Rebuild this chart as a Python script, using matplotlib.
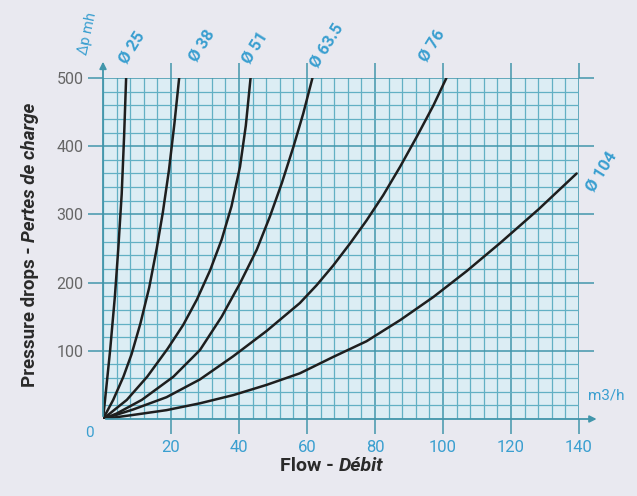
import matplotlib.pyplot as plt
from matplotlib.ticker import MultipleLocator

# flow (m3/h) vs pressure drop
flow_25 = [0, 0.6, 2.1, 3.5, 4.5, 5.5, 6.2, 6.8]
drop_25 = [0, 28, 101, 180, 250, 330, 414, 500]
flow_38 = [0, 3, 6.0, 8.4, 11, 13.6, 15.8, 17.6, 19.4, 21.0, 22.4]
drop_38 = [0, 28, 62, 95, 140, 193, 250, 303, 365, 433, 500]
flow_51 = [0, 7, 13, 19, 23.6, 27.6, 31.5, 34.9, 37.8, 40.3, 42.0, 43.4]
drop_51 = [0, 28, 62, 103, 138, 175, 218, 263, 312, 370, 430, 500]
flow_63 = [0, 4.0, 11.4, 20.7, 28.5, 34.9, 40.3, 45.2, 49.1, 52.6, 56.0, 58.9, 61.6]
drop_63 = [0, 8, 28, 62, 101, 150, 199, 248, 297, 346, 399, 448, 500]
flow_76 = [0, 8.9, 18.7, 28.5, 38.3, 48.1, 57.9, 62.8, 67.7, 72.6, 77.5, 82.4, 87.4, 92.3, 97.2, 101]
drop_76 = [0, 14, 32, 58, 92, 129, 170, 196, 225, 257, 291, 328, 370, 414, 460, 500]
flow_104 = [0, 8.9, 18.7, 28.5, 38.3, 48.1, 57.9, 67.7, 77.5, 87.4, 97.2, 107, 116.8, 128, 139.3]
drop_104 = [0, 6, 13, 23, 35, 50, 67, 91, 114, 145, 179, 217, 258, 307, 360]

curve_names = ["Ø 25", "Ø 38", "Ø 51", "Ø 63.5", "Ø 76", "Ø 104"]
x_ticks = [20, 40, 60, 80, 100, 120, 140]
y_ticks = [100, 200, 300, 400, 500]

W, H = 637, 496
bg = "#e9e9f0"
cyan = "#3a9fd0"
grid_c = "#62b0c4"
font = ["Roboto", "DejaVu Sans"]


def px(x, y):
    return x / W, 1 - y / H


fig = plt.figure(figsize=(W / 100, H / 100), dpi=100, facecolor=bg)
ax = fig.add_axes([103 / W, 77 / H, 476 / W, 341 / H], facecolor="#dcedf4")

curves = [(flow_25, drop_25), (flow_38, drop_38), (flow_51, drop_51),
          (flow_63, drop_63), (flow_76, drop_76), (flow_104, drop_104)]
for fx, dy in curves:
    ax.plot(fx, dy, color="#1e1e1e", lw=1.8, solid_capstyle="round",
            solid_joinstyle="round", zorder=3)

ax.set_xlim(0, 140)
ax.set_ylim(0, 500)
ax.xaxis.set_major_locator(MultipleLocator(20))
ax.xaxis.set_minor_locator(MultipleLocator(4))
ax.yaxis.set_major_locator(MultipleLocator(100))
ax.yaxis.set_minor_locator(MultipleLocator(20))
ax.grid(which="minor", color=grid_c, lw=0.9)
ax.grid(which="major", color="#4296ab", lw=1.1)
ax.set_axisbelow(True)

ax.xaxis.set_ticks_position("both")
ax.yaxis.set_ticks_position("both")
ax.tick_params(which="major", direction="out", length=11, width=1.1, color="#4296ab")
ax.tick_params(which="minor", length=0)
ax.set_xticks(x_ticks)
ax.set_xticklabels([str(t) for t in x_ticks], color=cyan, family=font,
                   fontstretch="condensed", fontsize=12)
ax.set_yticks(y_ticks)
ax.set_yticklabels([str(t) for t in y_ticks], color="#666666", family=font, fontsize=11.5)
ax.tick_params(axis="x", pad=4)
ax.tick_params(axis="y", pad=3)
for s in ax.spines.values():
    s.set_visible(False)

# axis arrows
ax.annotate("", xy=(146, 0), xytext=(0, 0), annotation_clip=False,
            arrowprops=dict(arrowstyle="-|>", color="#4296ab", lw=1.3, mutation_scale=10))
ax.annotate("", xy=(0, 528), xytext=(0, 0), annotation_clip=False,
            arrowprops=dict(arrowstyle="-|>", color="#4296ab", lw=1.3, mutation_scale=10))

# curve labels
label_pos = [(132, 48), (202, 46), (255, 48), (327, 46), (432, 46), (601, 172)]
for name, (x, y) in zip(curve_names, label_pos):
    fig.text(*px(x, y), name, color=cyan, family=font, fontsize=12,
             fontweight="bold", rotation=58, ha="center", va="center")

fig.text(*px(88, 34), "Δp mh", color=cyan, family=font, fontsize=10.5,
         rotation=78, ha="center", va="center")
fig.text(*px(606, 396), "m3/h", color=cyan, family=font, fontsize=11,
         ha="center", va="center")
fig.text(*px(89, 433), "0", color=cyan, family=font, fontsize=11,
         ha="center", va="center")

# axis titles: plain part then italic part right after it
dark = "#2a2a2a"
renderer = fig.canvas.get_renderer()

t1 = fig.text(0, 0, "Flow - ", color=dark, family=font, fontsize=14,
              fontweight="bold", ha="left", va="center")
t2 = fig.text(0, 0, "Débit", color=dark, family=font, fontsize=14,
              fontweight="bold", style="italic", ha="left", va="center")
w1 = t1.get_window_extent(renderer).width
w2 = t2.get_window_extent(renderer).width
x0 = 332 - (w1 + w2) / 2
t1.set_position(px(x0, 466))
t2.set_position(px(x0 + w1, 466))

t3 = fig.text(0, 0, "Pressure drops - ", color=dark, family=font, fontsize=13.5,
              fontweight="bold", rotation=90, ha="center", va="bottom")
t4 = fig.text(0, 0, "Pertes de charge", color=dark, family=font, fontsize=13.5,
              fontweight="bold", style="italic", rotation=90, ha="center", va="bottom")
h3 = t3.get_window_extent(renderer).height
h4 = t4.get_window_extent(renderer).height
y0 = 245 + (h3 + h4) / 2
t3.set_position(px(30, y0))
t4.set_position(px(30, y0 - h3))

fig.savefig("out.png", dpi=100, facecolor=bg)
